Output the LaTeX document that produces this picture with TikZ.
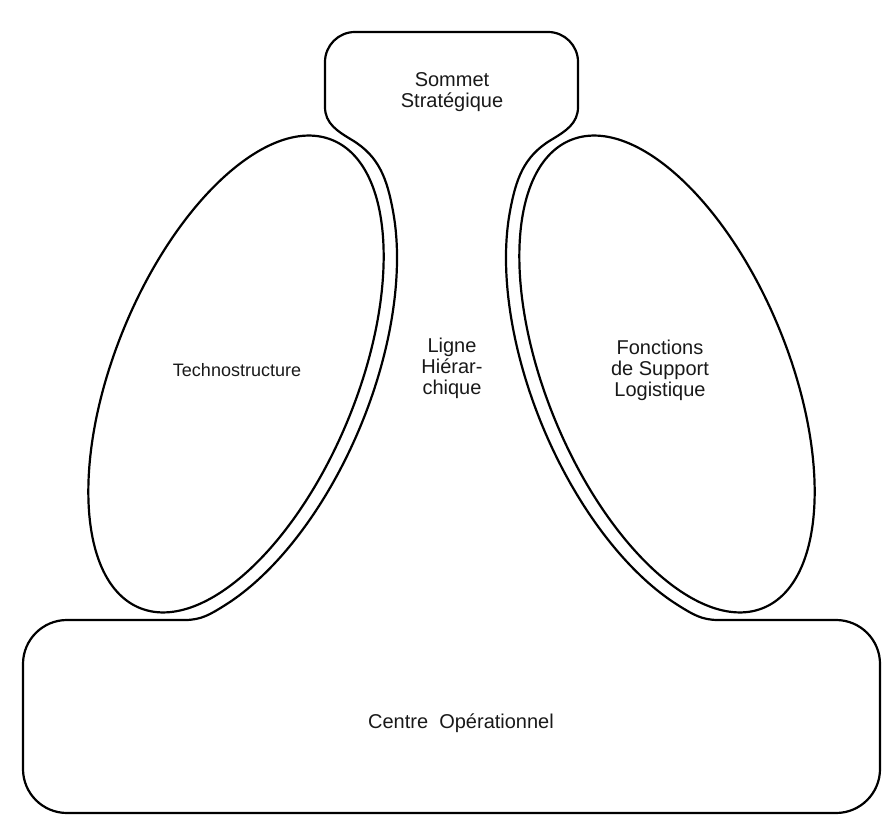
\documentclass[tikz,border=0pt]{standalone}
\usepackage{fontspec}
\setmainfont{Liberation Sans}
\setsansfont{Liberation Sans}
\usepackage{tikz}
\usetikzlibrary{shapes.geometric}
\tikzset{
  partline/.style={
    draw=black, line width=1.1pt, line join=round
  },
  partlabel/.style={
    font=\sffamily\fontsize{10}{10.5}\selectfont, align=center,
    text=black!90
  },
  lobe/.style={
    partline, ellipse, inner sep=0pt,
    minimum width=253pt, minimum height=121pt
  },
}

\begin{document}
\begin{tikzpicture}[x=0.5pt, y=0.5pt]
  \useasboundingbox (0,0) rectangle (882,819);

  % --- Sommet, ligne hierarchique et centre operationnel ---
  \draw[partline]
    (185,199) to[out=0, in=211.8] (224.2,213.3)
    -- plot[domain=215:322, samples=40, smooth, variable=\t]
       ({236+101.76*cos(\t)-124.8*sin(\t)}, {445+246.8*cos(\t)+51.45*sin(\t)})
    to[out=100.5, in=-31] (352,679)
    to[out=149, in=-90] (325,712)
    -- (325,757) arc[start angle=180, end angle=90, radius=15pt]
    -- (548,787) arc[start angle=90, end angle=0, radius=15pt]
    -- (578,712)
    to[out=-90, in=31] (551,679)
    to[out=-149, in=79.5] (510,607.8)
    -- plot[domain=38:145, samples=40, smooth, variable=\t]
       ({667-101.76*cos(\t)-124.8*sin(\t)}, {445+246.8*cos(\t)-51.45*sin(\t)})
    to[out=-31.8, in=180] (718,199)
    -- (836,199) arc[start angle=90, end angle=0, radius=22pt]
    -- (880,50) arc[start angle=0, end angle=-90, radius=22pt]
    -- (67,6) arc[start angle=270, end angle=180, radius=22pt]
    -- (23,155) arc[start angle=180, end angle=90, radius=22pt]
    -- cycle;

  % --- Technostructure et support logistique ---
  \node[lobe, rotate=67.6] (techno) at (236,445) {};
  \node[lobe, rotate=112.4] (support) at (667,445) {};

  % Labels
  \node[partlabel] (sommetlbl) at (452,727) {Sommet\\Stratégique};
  \node[partlabel, font=\sffamily\fontsize{9}{10}\selectfont]
    (technolbl) at (237,449) {Technostructure};
  \node[partlabel] (lignelbl) at (452,451) {Ligne\\Hiérar-\\chique};
  \node[partlabel] (supportlbl) at (660,449)
    {Fonctions\\de Support\\Logistique};
  \node[partlabel] (centrelbl) at (461,96) {Centre\ \ Opérationnel};
\end{tikzpicture}
\end{document}
